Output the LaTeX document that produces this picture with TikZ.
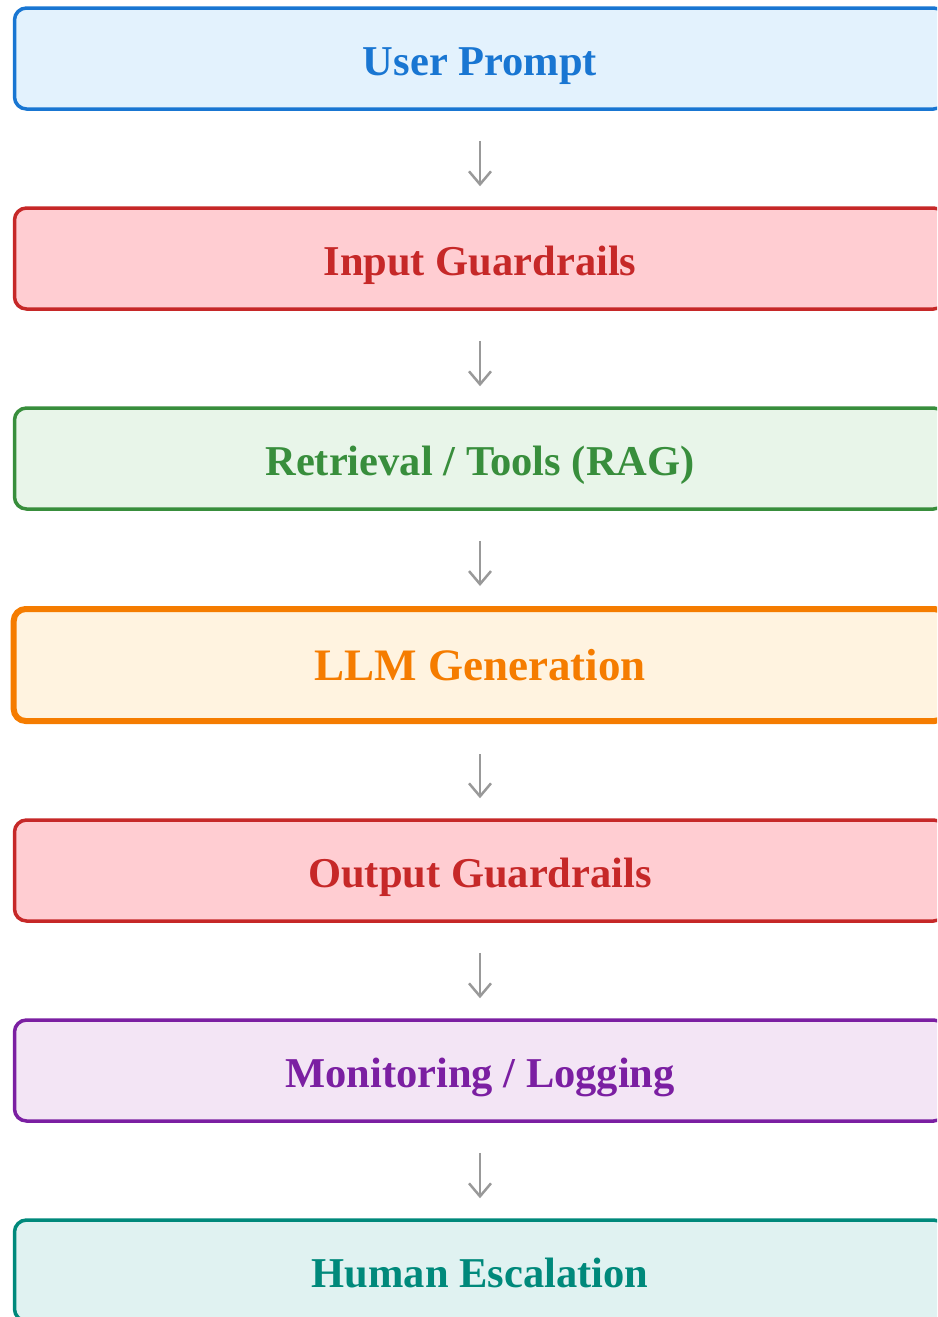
\documentclass[tikz,border=0pt]{standalone}
\usepackage{fontspec}
\setmainfont{Liberation Serif}
\usetikzlibrary{arrows.meta}

\definecolor{blueline}{HTML}{1976D2}\definecolor{bluefill}{HTML}{E3F2FD}
\definecolor{redline}{HTML}{C62828}\definecolor{redfill}{HTML}{FFCDD2}
\definecolor{greenline}{HTML}{388E3C}\definecolor{greenfill}{HTML}{E8F5E9}
\definecolor{orangeline}{HTML}{F57C00}\definecolor{orangefill}{HTML}{FFF3E0}
\definecolor{purpleline}{HTML}{7B1FA2}\definecolor{purplefill}{HTML}{F3E5F5}
\definecolor{tealline}{HTML}{00897B}\definecolor{tealfill}{HTML}{E0F2F1}
\definecolor{arrowgray}{HTML}{999999}

\tikzset{
  stage/.style n args={2}{draw=#1, fill=#2, text=#1, line width=3.5pt,
    rounded corners=12pt, minimum width=931pt, minimum height=101pt,
    inner sep=0pt, text height=33pt, text depth=0pt,
    font=\fontsize{42.5}{50}\selectfont\bfseries},
  bigstage/.style n args={2}{stage={#1}{#2}, line width=6pt,
    minimum width=932.6pt, minimum height=112pt, text height=31pt,
    font=\fontsize{45}{52}\selectfont\bfseries},
  flow/.style={draw=arrowgray, line width=2.5pt,
    -{Straight Barb[length=13pt, width=22pt, line width=2.5pt]}}
}

\begin{document}
\begin{tikzpicture}[x=1pt, y=-1pt]
  \useasboundingbox (0,0) rectangle (937,1317);
  \clip (0,0) rectangle (937,1317);

  \node[stage={blueline}{bluefill}]        (prompt)   at (480,58.5)   {User Prompt};
  \node[stage={redline}{redfill}]          (inguard)  at (480,258.5)  {Input Guardrails};
  \node[stage={greenline}{greenfill}]      (rag)      at (480,458.5)  {Retrieval / Tools (RAG)};
  \node[bigstage={orangeline}{orangefill}] (llm)      at (480,665)    {LLM Generation};
  \node[stage={redline}{redfill}]          (outguard) at (480,870.5)  {Output Guardrails};
  \node[stage={purpleline}{purplefill}]    (monitor)  at (480,1070.5) {Monitoring / Logging};
  \node[stage={tealline}{tealfill}]        (human)    at (480,1270.5) {Human Escalation};

  \foreach \a/\b in {prompt/inguard, inguard/rag, rag/llm, llm/outguard,
                     outguard/monitor, monitor/human}
    \draw[flow] ([yshift=-30pt]\a.south) -- ([yshift=20pt]\b.north);
\end{tikzpicture}
\end{document}
